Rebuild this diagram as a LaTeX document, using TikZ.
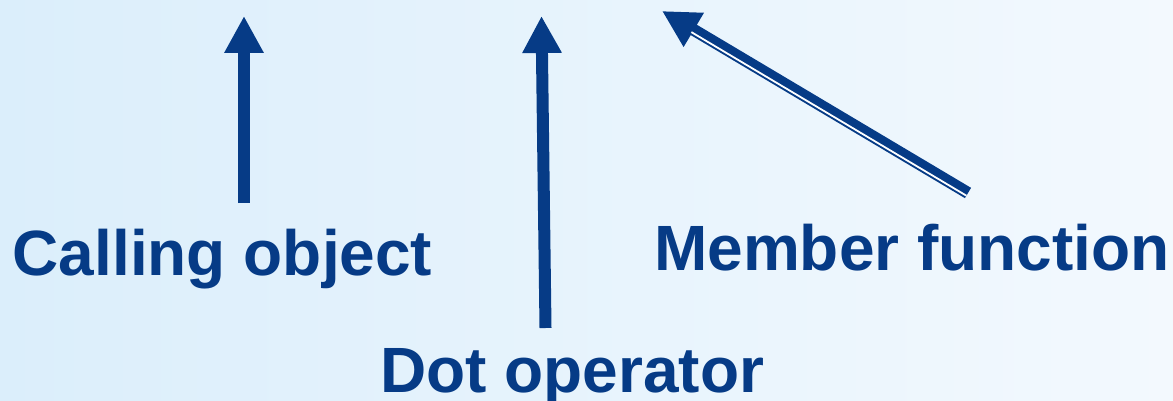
\documentclass[tikz,border=0pt]{standalone}
\usepackage{fontspec}
\setmainfont{Liberation Sans}
\usetikzlibrary{arrows.meta,calc}
\definecolor{ink}{RGB}{6,59,134}
\definecolor{bgleft}{RGB}{219,238,251}
\definecolor{bgright}{RGB}{243,249,254}
\tikzset{
  label/.style={inner sep=0pt, anchor=base west, text=ink,
    font=\fontsize{64}{70}\selectfont\bfseries},
  pointer/.style={draw=ink, line width=12pt,
    -{Triangle[width=37pt,length=37pt]}},
  gap/.style={draw=white, line width=1.8pt},
}
\begin{document}
\begin{tikzpicture}[x=1pt, y=-1pt]
  % backdrop
  \shade[left color=bgleft, right color=bgright] (0,0) rectangle (1173,401);
  \useasboundingbox (0,0) rectangle (1173,401);

  % captions
  \node[label] (calling) at (12.5,275) {Calling object};
  \node[label] (dot) at (380,392) {Dot operator};
  \node[label] (member) at (654,270) {Member function};

  % arrow ends
  \coordinate (callTail) at (244,203);
  \coordinate (callTip) at (244,16);
  \coordinate (dotTail) at (545.5,328);
  \coordinate (dotTip) at (541.5,16);
  \coordinate (memTail) at (968,193);
  \coordinate (memTip) at (662,11);

  % arrows
  \draw[pointer] (callTail) -- (callTip);
  \draw[pointer] (dotTail) -- (dotTip);
  \draw[pointer] (memTail) -- (memTip);
  % thick-thin double stroke on the slanted arrow
  \draw[gap] ($(memTail)+(-1.6,2.7)$) -- ($($(memTip)!36pt!(memTail)$)+(-1.6,2.7)$);
\end{tikzpicture}
\end{document}
